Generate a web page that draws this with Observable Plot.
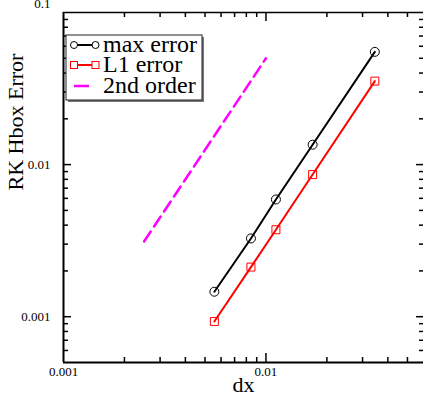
<!DOCTYPE html>
<html>
<head>
<meta charset="utf-8">
<script src="https://cdn.jsdelivr.net/npm/d3@7"></script>
<script src="https://cdn.jsdelivr.net/npm/@observablehq/plot@0.6"></script>
<style>
  html, body { margin: 0; padding: 0; background: #fff; overflow: hidden; }
</style>
</head>
<body>
<div id="chart"></div>
<script>
// ---- data ----
const dxValues = [0.00556, 0.00843, 0.0112, 0.0170, 0.0345];
const maxError = [0.00146, 0.00327, 0.00590, 0.01352, 0.0551];
const l1Error = [0.000931, 0.00212, 0.00373, 0.00860, 0.0354];
const orderDx = [0.0025, 0.01];
const orderErr = [0.003125, 0.05];

const xMajorTicks = [0.01];
const xMinorTicks = [0.002, 0.003, 0.004, 0.005, 0.006, 0.007, 0.008, 0.009, 0.02, 0.03, 0.04, 0.05];
const yMajorTicks = [0.001, 0.01];
const yMinorTicks = [0.0006, 0.0007, 0.0008, 0.0009, 0.002, 0.003, 0.004, 0.005, 0.006, 0.007, 0.008, 0.009,
                     0.02, 0.03, 0.04, 0.05, 0.06, 0.07, 0.08, 0.09];
const xLabelTicks = [0.001, 0.01];
const yLabelTicks = [0.001, 0.01];
const yTopLabel = [0.1];
const legendLabels = ["max error", "L1 error", "2nd order"];
const xTitle = "dx";
const yTitle = "RK Hbox Error";

const maxData = dxValues.map((x, i) => ({x, y: maxError[i]}));
const l1Data = dxValues.map((x, i) => ({x, y: l1Error[i]}));
const orderData = orderDx.map((x, i) => ({x, y: orderErr[i]}));

const font = "'Liberation Serif', 'Times New Roman', serif";
const blank = () => "";
// inward-pointing ticks: draw outward ticks, then shift them inside the frame
const tickX = (anchor, ticks, size) => Plot.axisX({anchor, ticks, tickSize: size, tickFormat: blank, label: null,
  strokeWidth: 1.5, dy: anchor === "bottom" ? -size : size});
const tickY = (anchor, ticks, size) => Plot.axisY({anchor, ticks, tickSize: size, tickFormat: blank, label: null,
  strokeWidth: 1.5, dx: anchor === "left" ? size : -size});

const plot = Plot.plot({
  width: 423,
  height: 402,
  marginLeft: 63,
  marginRight: 0,
  marginTop: 12,
  marginBottom: 40,
  style: {fontFamily: font, background: "white", overflow: "visible"},
  x: {type: "log", domain: [0.001, 0.06], axis: null},
  y: {type: "log", domain: [0.0005, 0.1], axis: null},
  marks: [
    tickX("bottom", xMajorTicks, 9),
    tickX("bottom", xMinorTicks, 5),
    tickX("top", xMajorTicks, 8),
    tickX("top", xMinorTicks, 4),
    tickY("left", yMajorTicks, 8),
    tickY("left", yMinorTicks, 5),
    tickY("right", yMajorTicks, 8),
    tickY("right", yMinorTicks, 5),
    // tick labels
    Plot.axisX({anchor: "bottom", ticks: xLabelTicks, tickSize: 0, tickPadding: 4, tickFormat: d => String(d), label: null, fontSize: 13}),
    Plot.axisY({anchor: "left", ticks: yLabelTicks, tickSize: 0, tickPadding: 13, tickFormat: d => String(d), label: null, fontSize: 13}),
    Plot.axisY({anchor: "left", ticks: yTopLabel, tickSize: 0, tickPadding: 13, tickFormat: d => String(d), label: null, fontSize: 13, dy: -9}),
    // frame
    Plot.ruleX([0.001], {strokeWidth: 2}),
    Plot.ruleY([0.0005], {strokeWidth: 2}),
    Plot.ruleY([0.1], {strokeWidth: 1.5}),
    // data
    Plot.line(orderData, {x: "x", y: "y", stroke: "#ff00ff", strokeWidth: 2.5, strokeDasharray: "12,6"}),
    Plot.line(maxData, {x: "x", y: "y", stroke: "black", strokeWidth: 2}),
    Plot.dot(maxData, {x: "x", y: "y", r: 4.5, stroke: "black", fill: "none", strokeWidth: 1}),
    Plot.line(l1Data, {x: "x", y: "y", stroke: "red", strokeWidth: 2}),
    Plot.dot(l1Data, {x: "x", y: "y", symbol: "square", r: 4.5, stroke: "red", fill: "none", strokeWidth: 1}),
    // axis titles
    Plot.text([xTitle], {text: d => d, frameAnchor: "bottom", dy: 29, fontSize: 22, fill: "black"}),
    Plot.text([yTitle], {text: d => d, frameAnchor: "left", rotate: -90, dx: -48, dy: 3, fontSize: 22, fill: "black"})
  ]
});

document.getElementById("chart").appendChild(plot);

// ---- legend box drawn inside the plot area ----
const svg = d3.select(plot);
const lg = svg.append("g");
lg.append("rect").attr("x", 68).attr("y", 37).attr("width", 136).attr("height", 65).attr("fill", "#777");
lg.append("rect").attr("x", 66).attr("y", 35).attr("width", 136).attr("height", 65)
  .attr("fill", "white").attr("stroke", "#222").attr("stroke-width", 1);

const rows = [45, 65, 86];
const styles = [
  {stroke: "black", marker: "circle"},
  {stroke: "red", marker: "square"},
  {stroke: "#ff00ff", marker: null}
];
legendLabels.forEach((label, i) => {
  const y = rows[i];
  const s = styles[i];
  if (s.marker) {
    lg.append("line").attr("x1", 74).attr("x2", 95.5).attr("y1", y).attr("y2", y)
      .attr("stroke", s.stroke).attr("stroke-width", 2);
    [74, 95.5].forEach(cx => {
      if (s.marker === "circle") {
        lg.append("circle").attr("cx", cx).attr("cy", y).attr("r", 3.5)
          .attr("fill", "white").attr("stroke", s.stroke).attr("stroke-width", 1);
      } else {
        lg.append("rect").attr("x", cx - 3.5).attr("y", y - 3.5).attr("width", 7).attr("height", 7)
          .attr("fill", "white").attr("stroke", s.stroke).attr("stroke-width", 1);
      }
    });
  } else {
    lg.append("line").attr("x1", 74).attr("x2", 89).attr("y1", y).attr("y2", y)
      .attr("stroke", s.stroke).attr("stroke-width", 2.5);
  }
  lg.append("text").attr("x", 103).attr("y", y + 7)
    .style("font-family", font).style("font-size", "24px").style("text-anchor", "start")
    .attr("fill", "black").text(label);
});
</script>
</body>
</html>
